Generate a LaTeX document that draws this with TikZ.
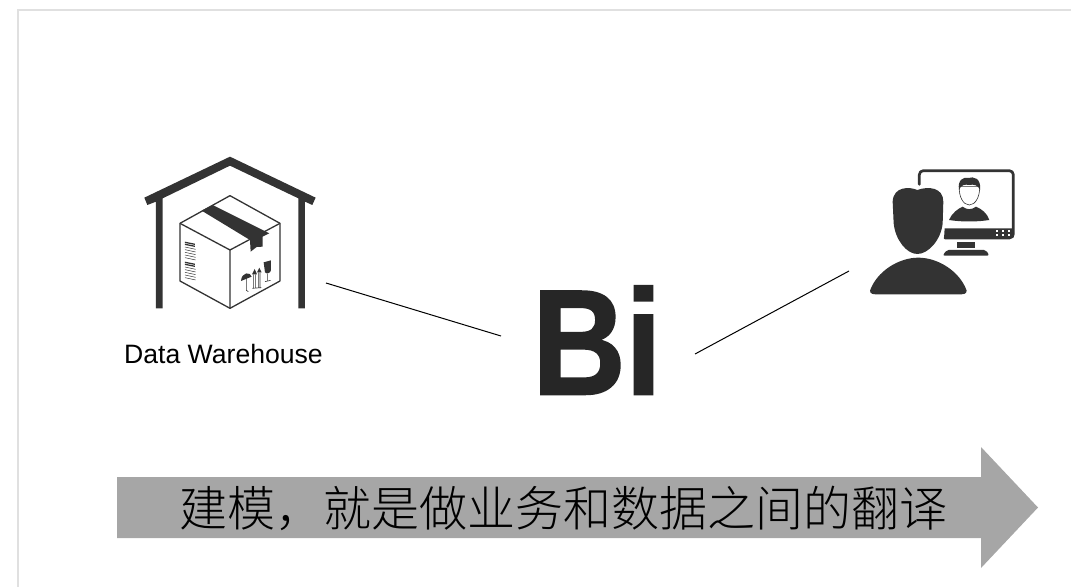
\documentclass[tikz,border=0pt]{standalone}
\usepackage{fontspec}
\setsansfont{Liberation Sans}
\newfontfamily\cjkfont{Noto Sans CJK SC Light}
\newfontfamily\bifont{Liberation Sans}[FakeStretch=.86,BoldFeatures={FakeStretch=.86,FakeBold=1.2}]
\definecolor{icon}{HTML}{333333}
\definecolor{frameline}{HTML}{E0E0E0}
\definecolor{arrowfill}{HTML}{A6A6A6}
\tikzset{
  wall/.style={fill=icon,draw=none},
  boxline/.style={draw=icon,line width=1.3pt,line join=round},
  link/.style={draw=black,line width=1pt},
  zoomed/.style={x=.3333pt,y=-.3333pt}
}
\begin{document}
\begin{tikzpicture}[x=1pt,y=-1pt]
\useasboundingbox (0,0) rectangle (1071,587);
\draw[frameline,line width=2pt] (18,587) -- (18,10) -- (1071,10);

% warehouse
\begin{scope}[shift={(130,145)},zoomed]
\fill[wall] (43,158) -- (300,35) -- (557,158) -- (547,180) -- (525,170) -- (525,490) -- (505,490)
  -- (505,160) -- (300,62) -- (98,160) -- (98,490) -- (78,490) -- (78,170) -- (52,180) -- cycle;
\draw[boxline] (300,152) -- (450,235) -- (450,408) -- (300,490) -- (150,408) -- (150,235) -- cycle;
\draw[boxline] (150,235) -- (300,315) -- (450,235) (300,315) -- (300,490);
\fill[wall] (215,197) -- (248,180) -- (418,265) -- (398,275) -- (398,305) -- (380,306) -- (362,320) -- (360,285) -- cycle;
\foreach \y in {290,296,350,356} \fill[icon] (165,\y) -- (195,\y+6) -- (195,\y+10) -- (165,\y+4) -- cycle;
\foreach \y in {306,314,322,330,338,366,374,382,390,398}
  \draw[icon,line width=.5pt] (165,\y) -- (197,\y+7);
\fill[icon] (333,408) .. controls (335,380) and (362,380) .. (365,395) -- cycle;
\draw[icon,line width=.6pt] (349,395) -- (349,436) -- (355,440);
\fill[icon] (366,388) -- (374,372) -- (381,388) -- cycle (381,382) -- (388,368) -- (395,382) -- cycle;
\draw[icon,line width=.6pt] (371,388) -- (371,428) (376,388) -- (376,428) (385,382) -- (385,428) (390,382) -- (390,428) (367,430) -- (394,428);
\fill[icon] (401,352) -- (423,346) -- (423,375) .. controls (422,385) and (410,388) .. (405,382) -- cycle;
\draw[icon,line width=.6pt] (413,385) -- (413,408) (405,410) -- (422,406);
\end{scope}
\node (dw) at (223.5,354) {\sffamily\fontsize{26.6}{30}\selectfont Data Warehouse};

% user and monitor
\begin{scope}[shift={(860,160)},zoomed]
\draw[icon,line width=2.7pt,line cap=round,line join=round,rounded corners=4pt] (178,73) -- (178,32) -- (460,32) -- (460,234) -- (255,234);
\fill[icon] (254,205) -- (462,205) -- (462,232) -- (252,236) -- cycle;
\foreach \x in {410,428,447} \foreach \y in {212,226}
  \fill[white] (\x-3,\y-3) rectangle (\x+3,\y+3);
\fill[icon] (292,247) rectangle (345,265);
\fill[icon,rounded corners=2pt] (260,270) -- (378,270) -- (388,287) -- (248,287) -- cycle;
% person on the screen
\fill[icon] (267,180) .. controls (275,160) and (295,145) .. (308,140) .. controls (320,150) and (335,150) .. (348,140)
  .. controls (365,147) and (382,160) .. (388,180) .. controls (350,186) and (305,186) .. (267,180) -- cycle;
\draw[icon,fill=white,line width=.6pt] (298,80) .. controls (296,110) and (310,135) .. (328,135) .. controls (346,135) and (360,110) .. (359,80) -- cycle;
\fill[icon] (297,90) .. controls (292,60) and (310,50) .. (325,54) .. controls (340,48) and (365,55) .. (360,90)
  .. controls (355,75) and (340,72) .. (328,75) .. controls (315,72) and (302,75) .. (297,90) -- cycle;
% person in front
\fill[icon] (172,90) .. controls (150,80) and (100,78) .. (98,125) -- (101,190) .. controls (106,240) and (140,282) .. (172,282)
  .. controls (205,282) and (243,240) .. (248,190) -- (250,125) .. controls (250,82) and (205,78) .. (172,90) -- cycle;
\fill[icon] (30,392) .. controls (50,335) and (115,293) .. (175,293) .. controls (235,293) and (300,335) .. (320,392)
  .. controls (320,402) and (310,403) .. (300,403) -- (50,403) .. controls (40,403) and (30,402) .. (30,392) -- cycle;
\end{scope}

\node (bi) at (597,340) {\bifont\bfseries\color[HTML]{262626}\fontsize{150}{150}\selectfont Bi};

\coordinate (wh) at (326,283);
\coordinate (biL) at (501,336);
\coordinate (biR) at (695,354);
\coordinate (user) at (849,271);
\draw[link] (wh) -- (biL);
\draw[link] (biR) -- (user);

\fill[arrowfill] (117,477) -- (981,477) -- (981,447) -- (1038,507.5) -- (981,568) -- (981,538) -- (117,538) -- cycle;
\node (model) at (563,508) {\cjkfont\fontsize{48}{52}\selectfont 建模，就是做业务和数据之间的翻译};
\end{tikzpicture}
\end{document}
